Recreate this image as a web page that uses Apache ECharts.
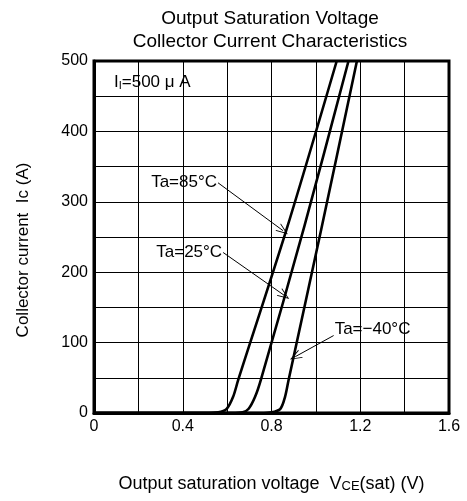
<!DOCTYPE html>
<html>
<head>
<meta charset="utf-8">
<script src="https://cdn.jsdelivr.net/npm/echarts@6/dist/echarts.min.js"></script>
<style>
  html, body { margin: 0; padding: 0; background: #fff; }
  #chart { width: 467px; height: 501px; }
</style>
</head>
<body>
<div id="chart"></div>
<script>
// 数据 (V, A)
const v85 = [0, 0.50, 0.56, 0.598, 0.627, 0.65, 0.872, 1.094];
const i85 = [0, 0, 1, 6, 23, 47, 265, 500];
const v25 = [0, 0.62, 0.67, 0.697, 0.726, 0.752, 0.948, 1.147];
const i25 = [0, 0, 1, 6, 23, 47, 265, 500];
const vM40 = [0, 0.75, 0.80, 0.840, 0.861, 0.877, 1.025, 1.185];
const iM40 = [0, 0, 1, 6, 23, 47, 262, 500];

const xTicks = [0, 0.4, 0.8, 1.2, 1.6];
const yTicks = [0, 100, 200, 300, 400, 500];

// annotation: label, arrow start, arrow end
const notes = [
    { name: 'Ta=85°C', from: [0.559, 327], to: [0.852, 259], side: 'left' },
    { name: 'Ta=25°C', from: [0.582, 228], to: [0.858, 167], side: 'left' },
    { name: 'Ta=−40°C', from: [1.080, 110], to: [0.907, 80], side: 'right' }
];

const font = 'Liberation Sans, Arial, sans-serif';
const openArrow = 'path://M5,0 L10,10 L9,10 L5,2 L1,10 L0,10 Z';

const pairs = (xs, ys) => xs.map((x, k) => [x, ys[k]]);

const makeSeries = (name, xs, ys, note) => ({
    name: name,
    type: 'line',
    smooth: 0.3,
    showSymbol: false,
    lineStyle: { color: '#000', width: 2.6 },
    data: pairs(xs, ys),
    markLine: {
        silent: true,
        symbol: ['none', openArrow],
        symbolSize: [9, 12],
        lineStyle: { color: '#000', width: 1, type: 'solid' },
        label: { show: false },
        data: [[{ coord: note.from }, { coord: note.to }]]
    },
    markPoint: {
        silent: true,
        symbol: 'circle',
        symbolSize: 0,
        data: [{
            coord: note.from,
            label: {
                show: true,
                formatter: note.name,
                position: note.side,
                distance: 1,
                offset: note.side === 'right' ? [0, -6] : [0, 0],
                color: '#000',
                fontSize: 17,
                fontFamily: font
            }
        }]
    }
});

const chart = echarts.init(document.getElementById('chart'));
const option = {
    animation: false,
    backgroundColor: '#fff',
    title: [
        {
            text: 'Output Saturation Voltage\nCollector Current Characteristics',
            left: 265,
            textAlign: 'center',
            top: 2,
            textStyle: { fontSize: 19, lineHeight: 23, fontWeight: 'normal', color: '#000', fontFamily: font }
        },
        {
            text: 'I{s|I}=500 μ A',
            left: 109,
            top: 69,
            textStyle: {
                fontSize: 17, fontWeight: 'normal', color: '#000', fontFamily: font,
                rich: { s: { fontSize: 11, verticalAlign: 'bottom', color: '#000', fontFamily: font, padding: [6, 0, 0, 0] } }
            }
        }
    ],
    grid: {
        left: 94,
        right: 18,
        top: 61,
        bottom: 88,
        show: true,
        borderColor: '#000',
        borderWidth: 3
    },
    xAxis: {
        type: 'value',
        min: 0,
        max: 1.6,
        interval: 0.2,
        name: 'Output saturation voltage  V{s|CE}(sat) (V)',
        nameLocation: 'middle',
        nameGap: 62,
        nameTextStyle: {
            color: '#000', fontSize: 18, fontFamily: font,
            rich: { s: { fontSize: 13, color: '#000', fontFamily: font, verticalAlign: 'bottom' } }
        },
        axisLine: { show: true, lineStyle: { color: '#000', width: 3 } },
        axisTick: { show: false },
        splitLine: { show: true, lineStyle: { color: '#000', width: 1 } },
        axisLabel: {
            margin: 6,
            color: '#000',
            fontSize: 16,
            fontFamily: font,
            formatter: v => {
                const t = xTicks.find(x => Math.abs(x - v) < 1e-6);
                return t === undefined ? '' : String(t);
            }
        }
    },
    yAxis: {
        type: 'value',
        min: 0,
        max: 500,
        interval: 50,
        name: 'Collector current  Ic (A)',
        nameLocation: 'middle',
        nameRotate: 90,
        nameGap: 62,
        nameTextStyle: { color: '#000', fontSize: 17, fontFamily: font, padding: [0, 26, 0, 0] },
        axisLine: { show: true, lineStyle: { color: '#000', width: 3 } },
        axisTick: { show: false },
        splitLine: { show: true, lineStyle: { color: '#000', width: 1 } },
        axisLabel: {
            margin: 6,
            color: '#000',
            fontSize: 16,
            fontFamily: font,
            formatter: v => (yTicks.indexOf(v) === -1 ? '' : String(v))
        }
    },
    series: [
        makeSeries('Ta=85°C', v85, i85, notes[0]),
        makeSeries('Ta=25°C', v25, i25, notes[1]),
        makeSeries('Ta=−40°C', vM40, iM40, notes[2])
    ]
};

chart.setOption(option);
</script>
</body>
</html>
